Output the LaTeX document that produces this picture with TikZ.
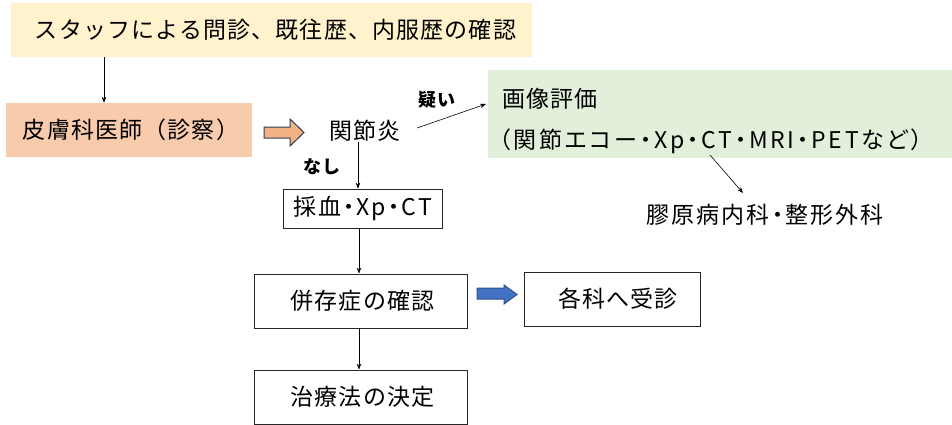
\documentclass[tikz,border=0pt]{standalone}
\usepackage{fontspec}
\newfontfamily\jp[LetterSpace=5]{Noto Sans CJK JP}
\newfontfamily\jpp[RawFeature=+palt,LetterSpace=9]{Noto Sans CJK JP}
\newfontfamily\jpw[RawFeature=+palt,LetterSpace=12]{Noto Sans CJK JP}
\usetikzlibrary{arrows.meta}
\definecolor{ybox}{HTML}{FFF2CC}
\definecolor{sbox}{HTML}{F8CBAD}
\definecolor{gbox}{HTML}{E2EFDA}
\definecolor{oarr}{HTML}{F4B183}
\definecolor{oarrd}{HTML}{2F3B5C}
\definecolor{barr}{HTML}{4472C4}
\definecolor{barrd}{HTML}{2F528F}
\begin{document}
\begin{tikzpicture}[x=1pt,y=-1pt,
  font=\jp\fontsize{23}{27}\selectfont,
  arr/.style={-{Stealth[length=6pt,width=4.5pt]}, line width=0.6pt},
  txt/.style={inner sep=0pt},
  lbl/.style={inner sep=0pt, font=\jp\fontsize{18}{20}\selectfont\bfseries},
  fillbox/.style={inner sep=0pt, draw=none},
  wbox/.style={draw=black!85, line width=0.8pt, fill=white, inner sep=0pt}]
\useasboundingbox (0,0) rectangle (952,425);

% filled boxes
\node[fillbox, fill=ybox, minimum width=521pt, minimum height=54pt] (top) at (271.5,30) {\hspace*{8pt}スタッフによる問診、既往歴、内服歴の確認};
\node[fillbox, fill=sbox, minimum width=246pt, minimum height=54pt] (derm) at (129,130) {\hspace*{4pt}皮膚科医師（診察）};
\node[fillbox, fill=gbox, minimum width=464pt, minimum height=88pt] (gazo) at (720,114) {};
\node[txt, anchor=west] (g1) at (502,99) {画像評価};
\node[txt, anchor=west, font=\jpw\fontsize{23}{27}\selectfont] (g2) at (499,141) {（関節エコー・Xp・CT・MRI・PETなど）};

% plain texts
\node[txt] (kan) at (365,131) {関節炎};
\node[txt, font=\jpp\fontsize{23}{27}\selectfont] (kogen) at (765,215) {膠原病内科・整形外科};
\node[lbl] (utagai) at (437,100) {疑い};
\node[lbl] (nashi) at (322,167) {なし};

% white boxes
\node[wbox, minimum width=159pt, minimum height=39pt, font=\jpp\fontsize{23}{27}\selectfont] (sai) at (362.5,208.5) {採血・Xp・CT};
\node[wbox, minimum width=213pt, minimum height=54pt] (heizon) at (360.5,301) {\hspace*{4pt}併存症の確認};
\node[wbox, minimum width=176pt, minimum height=54pt] (kakka) at (612,299) {\hspace*{12pt}各科へ受診};
\node[wbox, minimum width=213pt, minimum height=54pt] (chiryo) at (360.5,397) {\hspace*{4pt}治療法の決定};

% connectors
\draw[arr] (104,0 |- top.south) -- (104,0 |- derm.north);
\draw[arr] (358,0 |- kan.south) -- (358,0 |- sai.north);
\draw[arr] (359,0 |- sai.south) -- (359,0 |- heizon.north);
\draw[arr] (359,0 |- heizon.south) -- (359,0 |- chiryo.north);
\coordinate (k0) at (417,128);
\coordinate (k1) at (486,104);
\draw[arr] (k0) -- (k1);
\coordinate (m0) at (710,155);
\coordinate (m1) at (743,193);
\draw[arr] (m0) -- (m1);

% block arrows
\draw[draw=oarrd, fill=oarr, line width=1pt, line join=miter]
  (264,127) -- (290,127) -- (290,119) -- (304,132.5) -- (290,146) -- (290,138) -- (264,138) -- cycle;
\draw[draw=barrd, fill=barr, line width=1pt, line join=miter]
  (477,288) -- (504,288) -- (504,285) -- (517,294.5) -- (504,304) -- (504,299) -- (477,299) -- cycle;
\end{tikzpicture}
\end{document}
